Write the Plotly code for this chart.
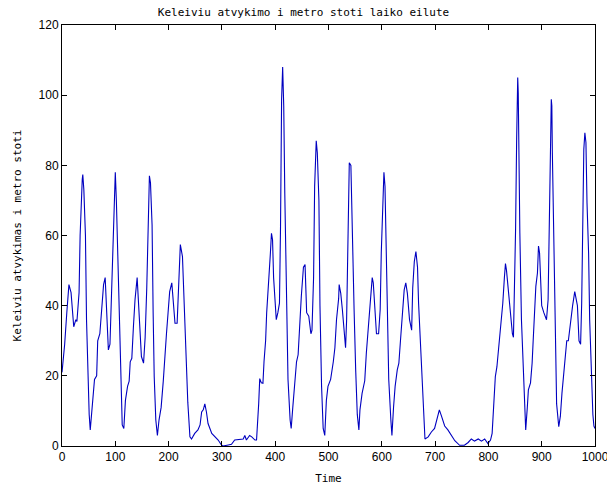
import plotly.graph_objects as go

# Time points and values
time = [0, 5, 9, 13, 17, 22, 26, 28, 32, 34, 38, 39, 41, 44, 46, 48, 51, 53, 57, 61, 65, 67, 71, 74, 78, 81, 84, 87, 90, 93, 96, 98, 100, 102, 106, 108, 110, 113, 116, 119, 123, 126, 128, 131, 134, 137, 141, 143, 146, 149, 153, 156, 159, 162, 164, 166, 169, 171, 173, 176, 179, 182, 186, 190, 193, 196, 199, 202, 206, 209, 212, 216, 218, 221, 222, 226, 229, 232, 236, 240, 243, 249, 255, 259, 262, 265, 268, 271, 274, 281, 287, 293, 299, 302, 312, 318, 324, 334, 340, 343, 346, 352, 356, 362, 365, 369, 371, 374, 377, 379, 382, 384, 388, 391, 393, 395, 397, 400, 402, 405, 408, 410, 412, 414, 416, 418, 421, 424, 428, 430, 433, 437, 440, 443, 446, 449, 453, 456, 459, 463, 467, 469, 472, 474, 477, 479, 482, 484, 487, 490, 493, 496, 499, 504, 509, 512, 515, 519, 520, 523, 526, 529, 532, 534, 537, 539, 542, 544, 548, 551, 554, 557, 559, 563, 568, 571, 575, 579, 582, 584, 587, 590, 594, 597, 599, 602, 604, 606, 608, 611, 613, 617, 619, 622, 625, 629, 632, 635, 639, 642, 645, 648, 652, 656, 658, 661, 664, 667, 669, 673, 677, 681, 687, 693, 699, 704, 708, 712, 718, 724, 730, 737, 746, 755, 762, 768, 774, 781, 787, 793, 799, 804, 807, 810, 813, 816, 819, 822, 824, 827, 830, 832, 834, 837, 840, 843, 845, 847, 849, 851, 853, 855, 856, 857, 859, 862, 865, 868, 870, 873, 875, 879, 882, 884, 887, 889, 892, 894, 896, 898, 900, 904, 909, 912, 914, 916, 918, 919, 920, 923, 926, 928, 932, 935, 938, 942, 945, 947, 950, 954, 958, 962, 964, 967, 970, 973, 975, 977, 979, 981, 983, 985, 988, 990, 993, 996, 998, 1000]
arrivals = [21, 29, 38, 46, 43.7, 34, 36, 35.5, 43.7, 60, 76, 77.4, 73, 60, 36, 22.6, 9, 4.6, 12, 19, 20, 30, 32, 38, 46, 48, 36, 27.4, 29, 42, 55, 68, 78, 70, 46, 31, 17, 6, 5, 13, 17, 18.5, 24, 25, 34, 41.7, 48, 42, 31, 25.5, 23.6, 31, 45, 64, 77, 75, 63, 38, 19.8, 7.4, 3, 7.4, 11, 18.5, 27, 32, 38, 44, 46.5, 40, 35, 35, 43.7, 55, 57.4, 54, 41, 27, 12.5, 2.6, 2, 3.6, 4.6, 6, 9.7, 10.3, 12, 9.7, 6.4, 3.6, 2.6, 1.7, 0.3, 0, 0.3, 0.5, 1.7, 2, 2, 3, 1.7, 3, 2.6, 1.7, 1.7, 12, 19.2, 18, 17.9, 24, 30, 38, 46.5, 55, 60.6, 58.8, 48, 40, 36, 38, 40.7, 62.6, 98.8, 108, 97, 72, 40, 19, 7.4, 5, 11, 19, 24, 26, 35, 42.7, 51, 51.7, 38, 37, 32, 33, 48, 74, 87, 83.6, 70, 40, 17, 5, 3, 13, 17, 19, 24, 28, 36, 42, 46, 43.5, 38.9, 33, 28, 36, 64.6, 80.7, 80, 64.6, 39, 21.7, 9, 4.6, 10.3, 15, 18.6, 26.5, 35, 41.7, 48, 46.5, 39, 32, 32, 39, 55, 71, 78, 74, 57, 36, 19, 7.4, 3, 11, 17, 21.7, 23.6, 30, 38, 44.5, 46.5, 43.5, 36, 33, 45, 52.6, 55.4, 51, 40.7, 26.5, 12, 2, 2.6, 4, 5, 8.5, 10.3, 8.5, 5.7, 4.6, 3, 1.5, 0.2, 0.2, 1, 2, 1.4, 2, 1.4, 2, 0.7, 1.7, 3.6, 12, 19.8, 22.6, 28, 31, 36, 40.7, 48, 52, 50, 45, 40.7, 36, 32, 31, 43.5, 61.7, 87.4, 105, 100.7, 82.6, 60.7, 36, 21.7, 11, 4.6, 11, 16, 18, 23.6, 30, 39, 45.5, 49.3, 57, 55, 49.3, 40, 38, 36, 41.7, 59.8, 81.7, 98.8, 97, 83.6, 55, 26.5, 12, 5.5, 8.5, 15, 21.7, 26.5, 30, 30, 36, 40, 44, 42.7, 40, 30, 29, 40.7, 64.6, 84.6, 89.3, 86.5, 69.3, 55, 36, 21.7, 9, 5.7, 5]

x_ticks = [0, 100, 200, 300, 400, 500, 600, 700, 800, 900, 1000]
y_ticks = [0, 20, 40, 60, 80, 100, 120]

title_text = "Keleiviu atvykimo i metro stoti laiko eilute"
x_label = "Time"
y_label = "Keleiviu atvykimas i metro stoti"

fig = go.Figure()
fig.add_trace(go.Scatter(x=time, y=arrivals, mode="lines",
                         line=dict(color="#0000c0", width=1.1), showlegend=False))

mono = "DejaVu Sans Mono"
sans = "Liberation Sans"

axis_common = dict(showgrid=False, zeroline=False, showline=True, linecolor="black",
                   linewidth=1, mirror="ticks", ticks="inside", ticklen=5,
                   tickcolor="black", ticklabeloverflow="allow", automargin=False,
                   tickfont=dict(family=sans, size=12, color="black"))

fig.update_layout(
    width=607, height=486,
    margin=dict(l=62, r=12, t=25, b=40),
    paper_bgcolor="white", plot_bgcolor="white",
    title=dict(text=title_text, x=0.5, xanchor="center", y=0.975, yanchor="middle",
               font=dict(family=mono, size=11, color="black")),
    xaxis=dict(range=[0, 1000], tickvals=x_ticks,
               title=dict(text=x_label, font=dict(family=mono, size=11, color="black"), standoff=10),
               **axis_common),
    yaxis=dict(range=[0, 120], tickvals=y_ticks,
               title=dict(text=y_label, font=dict(family=mono, size=11, color="black"), standoff=14),
               **axis_common),
)

fig.write_html("out.html", config={"displayModeBar": False},
               post_script="document.body.style.margin='0';document.body.style.padding='0';document.body.style.overflow='hidden';")
